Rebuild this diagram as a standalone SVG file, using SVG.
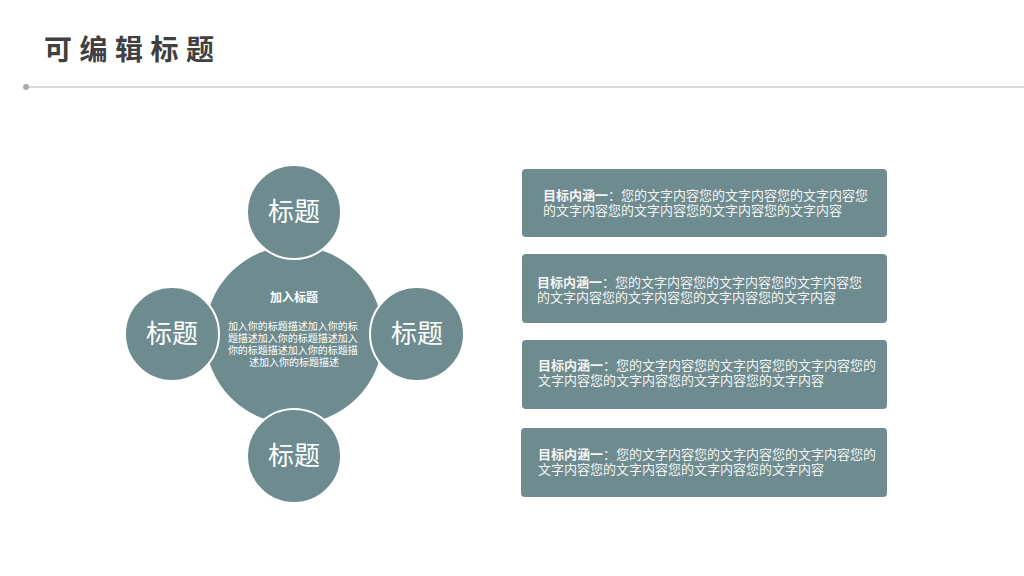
<svg xmlns="http://www.w3.org/2000/svg" width="1024" height="576" viewBox="0 0 1024 576">
<style>
.t{font-family:"Noto Sans CJK SC","Liberation Sans",sans-serif;fill:#ffffff}
.big{fill:#6e8b8f}
.sm{fill:#6e8b8f;stroke:#ffffff;stroke-width:2}
.lab{font-size:26px;text-anchor:middle}
.box{fill:#6e8b8f}
.bt{font-size:13px;fill:#f4f4f4}
</style>
<rect width="1024" height="576" fill="#ffffff"/>
<g id="header">
<text x="44" y="60" font-family="Noto Sans CJK SC,Liberation Sans,sans-serif" font-size="28" font-weight="bold" fill="#404040" letter-spacing="7.5">可编辑标题</text>
<line x1="26" y1="87" x2="1024" y2="87" stroke="#cccccc" stroke-width="1.5"/>
<circle cx="26" cy="87" r="3" fill="#aaaaaa"/>
</g>
<g id="connectors"></g>
<g id="center">
<circle class="big" cx="294" cy="335" r="89"/>
<text class="t" x="294" y="302" font-size="12" font-weight="bold" text-anchor="middle">加入标题</text>
<text class="t" font-size="10" text-anchor="middle">
<tspan x="294" y="330">加入你的标题描述加入你的标</tspan>
<tspan x="294" y="342">题描述加入你的标题描述加入</tspan>
<tspan x="294" y="354">你的标题描述加入你的标题描</tspan>
<tspan x="294" y="366">述加入你的标题描述</tspan>
</text>
</g>
<g id="node-top">
<circle class="sm" cx="294" cy="212" r="47"/>
<text class="t lab" x="294" y="221">标题</text>
</g>
<g id="node-left">
<circle class="sm" cx="172" cy="334" r="47"/>
<text class="t lab" x="172" y="343">标题</text>
</g>
<g id="node-right">
<circle class="sm" cx="417" cy="334" r="47"/>
<text class="t lab" x="417" y="343">标题</text>
</g>
<g id="node-bottom">
<circle class="sm" cx="294" cy="456" r="47"/>
<text class="t lab" x="294" y="465">标题</text>
</g>
<g id="box1">
<rect class="box" x="522" y="169" width="365" height="68" rx="4"/>
<text class="t bt"><tspan x="543" y="200" font-weight="bold">目标内涵一</tspan><tspan>：您的文字内容您的文字内容您的文字内容您</tspan><tspan x="543" y="215">的文字内容您的文字内容您的文字内容您的文字内容</tspan></text>
</g>
<g id="box2">
<rect class="box" x="522" y="254" width="365" height="69" rx="4"/>
<text class="t bt"><tspan x="537" y="287" font-weight="bold">目标内涵一</tspan><tspan>：您的文字内容您的文字内容您的文字内容您</tspan><tspan x="537" y="302">的文字内容您的文字内容您的文字内容您的文字内容</tspan></text>
</g>
<g id="box3">
<rect class="box" x="522" y="340" width="365" height="69" rx="4"/>
<text class="t bt"><tspan x="538" y="370" font-weight="bold">目标内涵一</tspan><tspan>：您的文字内容您的文字内容您的文字内容您的</tspan><tspan x="538" y="385">文字内容您的文字内容您的文字内容您的文字内容</tspan></text>
</g>
<g id="box4">
<rect class="box" x="521" y="428" width="366" height="69" rx="4"/>
<text class="t bt"><tspan x="538" y="459" font-weight="bold">目标内涵一</tspan><tspan>：您的文字内容您的文字内容您的文字内容您的</tspan><tspan x="538" y="474">文字内容您的文字内容您的文字内容您的文字内容</tspan></text>
</g>
</svg>
